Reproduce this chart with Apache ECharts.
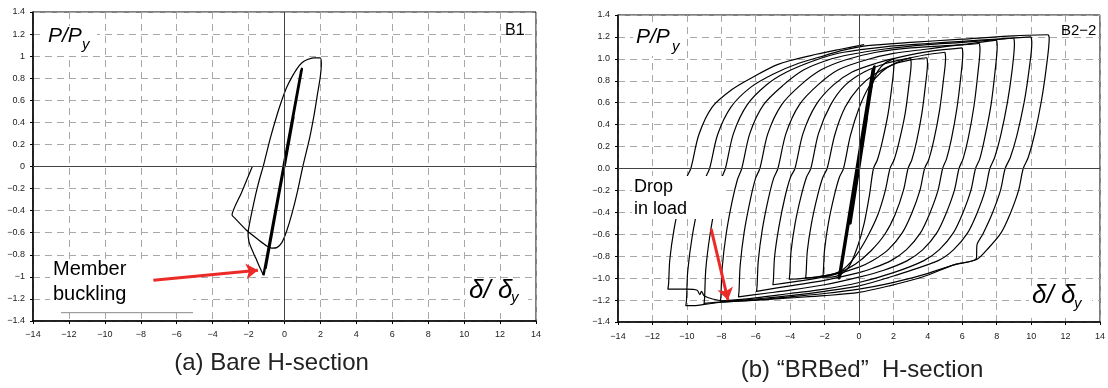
<!DOCTYPE html>
<html>
<head>
<meta charset="utf-8">
<script src="https://cdn.jsdelivr.net/npm/echarts@6/dist/echarts.min.js"></script>
<style>
  html, body { margin: 0; padding: 0; background: #fff; }
  #chart { width: 1108px; height: 388px; }
</style>
</head>
<body>
<div id="chart"></div>
<script>
// axis ranges (both panels)
const xMin = -14, xMax = 14, xStep = 2;
const yMin = -1.4, yMax = 1.4, yStep = 0.2;

// (a) B1 - bare H-section [delta/delta_y, P/P_y]
// elastic cycles (drawn heavy, as in the test record)
const b1Elastic = [
  [0, 0], [0.5, 0.45], [-0.55, -0.47], [0.97, 0.885], [-1.05, -0.92], [0.93, 0.87], [-1.17, -0.985]
];
// buckling, reload to +2, reverse to -3, end
const b1Path = [
  [-1.17, -0.985],
  [-1.36, -0.92], [-1.6, -0.83], [-1.82, -0.75], [-1.98, -0.68], [-2.03, -0.6], [-1.95, -0.52],
  [-1.8, -0.4], [-1.6, -0.25], [-1.4, -0.12], [-1.17, 0.01], [-0.8, 0.25], [-0.43, 0.46],
  [-0.15, 0.6], [0.13, 0.72], [0.41, 0.81], [0.69, 0.885], [0.97, 0.94], [1.28, 0.97],
  [1.62, 0.985], [1.99, 0.985],
  [2.05, 0.93], [1.99, 0.81], [1.84, 0.66], [1.66, 0.48], [1.4, 0.26], [1.02, 0], [0.73, -0.22],
  [0.41, -0.43], [0.13, -0.58], [-0.15, -0.69], [-0.43, -0.735], [-0.71, -0.74], [-0.99, -0.72],
  [-1.4, -0.67], [-2.1, -0.58], [-2.75, -0.47], [-2.92, -0.44], [-2.4, -0.24], [-1.79, 0]
];
const b1Arrow = [[-7.3, -1.03], [-1.48, -0.94]];

// (b) B2-2 - BRBed H-section
const b2Elastic = [
  [0, 0], [0.45, 0.46], [-0.5, -0.5], [0.9, 0.93], [-1.15, -1.0], [0.85, 0.91], [-1.1, -0.98],
  [0.8, 0.9], [-1.17, -1.0], [0.88, 0.92], [-1.15, -1.0]
];
const b2Loop1 = [
  [-1.15, -1.0], [-0.09, 0], [0.5, 0.55], [0.8, 0.78], [1.1, 0.89], [1.5, 0.96], [2.0, 1.0]
];
const b2Loop2 = [
  [2.0, 1.0], [2.03, 0.95], [1.91, 0.75], [1.69, 0.5], [1.36, 0.25], [1.07, 0.08], [0.84, 0],
  [0.6, -0.25], [0.3, -0.5], [-0.1, -0.72], [-0.6, -0.9], [-1.1, -0.97], [-1.6, -0.99], [-2.1, -0.99],
  [-2.07, -0.94], [-2.0, -0.74], [-1.78, -0.5], [-1.44, -0.25], [-1.14, -0.08], [-0.9, 0],
  [-0.5, 0.3], [0, 0.55], [0.6, 0.75], [1.3, 0.88], [2.1, 0.96], [3.0, 1.01]
];
const b2Loop3 = [
  [3.0, 1.01], [3.03, 0.96], [2.9, 0.76], [2.68, 0.5], [2.34, 0.25], [2.04, 0.08], [1.8, 0],
  [1.53, -0.2], [1.1, -0.42], [0.5, -0.62], [-0.2, -0.8], [-1.0, -0.93], [-2.0, -0.98], [-3.1, -1.0],
  [-3.07, -0.95], [-3.0, -0.75], [-2.76, -0.5], [-2.41, -0.25], [-2.1, -0.08], [-1.85, 0],
  [-1.4, 0.31], [-0.8, 0.56], [0, 0.74], [0.9, 0.86], [2.0, 0.95], [3.0, 0.99], [3.95, 1.01]
];
const b2Loop4 = [
  [3.95, 1.01], [3.98, 0.96], [3.86, 0.76], [3.65, 0.5], [3.35, 0.25], [3.07, 0.08], [2.85, 0],
  [2.58, -0.2], [2.1, -0.42], [1.5, -0.6], [0.7, -0.75], [-0.2, -0.87], [-1.2, -0.95], [-2.5, -0.99],
  [-4.05, -1.01],
  [-4.02, -0.96], [-3.95, -0.76], [-3.71, -0.5], [-3.36, -0.25], [-3.05, -0.08], [-2.8, 0],
  [-2.35, 0.32], [-1.65, 0.58], [-0.8, 0.76], [0.3, 0.88], [1.6, 0.96], [3.0, 1.01], [4.0, 1.04], [5.0, 1.06]
];
const b2Loop5 = [
  [5.0, 1.06], [5.03, 1.01], [4.9, 0.8], [4.68, 0.53], [4.35, 0.26], [4.05, 0.08], [3.81, 0],
  [3.54, -0.2], [3.06, -0.41], [2.5, -0.59], [1.7, -0.74], [0.8, -0.84], [0, -0.9], [-1.5, -0.97],
  [-3.2, -1.02], [-5.0, -1.06],
  [-4.97, -1.01], [-4.9, -0.8], [-4.65, -0.53], [-4.3, -0.26], [-3.98, -0.08], [-3.72, 0],
  [-3.25, 0.32], [-2.5, 0.58], [-1.5, 0.76], [-0.4, 0.88], [1.0, 0.96], [2.5, 1.02], [4.2, 1.07], [6.0, 1.10]
];
const b2Loop6 = [
  [6.0, 1.10], [6.03, 1.05], [5.91, 0.83], [5.69, 0.55], [5.37, 0.27], [5.09, 0.09], [4.86, 0],
  [4.59, -0.2], [4.11, -0.41], [3.56, -0.59], [2.76, -0.74], [1.86, -0.84], [0.8, -0.91], [0, -0.95],
  [-2.0, -1.02], [-4.0, -1.07], [-5.95, -1.12],
  [-5.92, -1.07], [-5.85, -0.84], [-5.62, -0.56], [-5.27, -0.28], [-4.96, -0.09], [-4.71, 0],
  [-4.24, 0.32], [-3.47, 0.58], [-2.4, 0.76], [-1.2, 0.9], [0.4, 0.99], [2.0, 1.05], [4.0, 1.09],
  [5.5, 1.12], [7.0, 1.14]
];
const b2Loop7 = [
  [7.0, 1.14], [7.03, 1.09], [6.9, 0.86], [6.68, 0.57], [6.35, 0.28], [6.05, 0.09], [5.81, 0],
  [5.54, -0.2], [5.06, -0.41], [4.51, -0.59], [3.71, -0.74], [2.81, -0.84], [1.4, -0.93], [0, -0.99],
  [-2.0, -1.06], [-4.0, -1.11], [-5.5, -1.14], [-7.0, -1.17],
  [-6.97, -1.12], [-6.9, -0.88], [-6.67, -0.58], [-6.32, -0.29], [-6.01, -0.09], [-5.76, 0],
  [-5.29, 0.32], [-4.5, 0.58], [-3.4, 0.76], [-2.2, 0.9], [-0.8, 0.99], [1.0, 1.06], [3.0, 1.1],
  [6.0, 1.13], [7.0, 1.15], [8.0, 1.17]
];
const b2Loop8 = [
  [8.0, 1.17], [8.03, 1.12], [7.9, 0.88], [7.67, 0.58], [7.32, 0.29], [7.02, 0.09], [6.77, 0],
  [6.5, -0.2], [6.02, -0.41], [5.47, -0.59], [4.67, -0.74], [3.77, -0.84], [2.0, -0.95], [0, -1.04],
  [-2.0, -1.10], [-4.0, -1.14], [-6.0, -1.18], [-8.05, -1.21],
  [-8.02, -1.16], [-7.95, -0.91], [-7.72, -0.6], [-7.37, -0.3], [-7.06, -0.1], [-6.81, 0],
  [-6.34, 0.32], [-5.55, 0.58], [-4.4, 0.76], [-3.2, 0.9], [-1.8, 0.99], [-0.5, 1.04], [1.5, 1.09],
  [4.0, 1.13], [6.0, 1.15], [9.0, 1.19]
];
const b2Loop9 = [
  [9.0, 1.19], [9.03, 1.14], [8.89, 0.89], [8.62, 0.6], [8.23, 0.3], [7.88, 0.1], [7.6, 0],
  [7.33, -0.2], [6.85, -0.41], [6.3, -0.59], [5.5, -0.74], [4.6, -0.84], [2.0, -0.98], [0, -1.07],
  [-2.0, -1.12], [-4.0, -1.16], [-6.0, -1.19], [-7.5, -1.21], [-9.0, -1.23],
  [-8.97, -1.18], [-8.9, -0.92], [-8.67, -0.62], [-8.32, -0.31], [-8.01, -0.1], [-7.76, 0],
  [-7.29, 0.32], [-6.5, 0.58], [-5.4, 0.76], [-4.2, 0.88], [-2.5, 0.99], [-0.9, 1.06], [1.5, 1.11],
  [4.0, 1.14], [6.0, 1.16], [8.0, 1.18], [10.0, 1.20]
];
const b2Loop10 = [
  [10.0, 1.20], [10.04, 1.15], [9.88, 0.9], [9.59, 0.6], [9.17, 0.3], [8.79, 0.1], [8.49, 0],
  [8.22, -0.2], [7.74, -0.41], [7.19, -0.6], [6.85, -0.7], [6.82, -0.82], [5.49, -0.88], [3.5, -0.98],
  [1.7, -1.05], [0, -1.10], [-2.0, -1.14], [-4.0, -1.17], [-6.0, -1.2], [-8.0, -1.22], [-9.0, -1.24],
  [-9.5, -1.25], [-10.06, -1.25],
  [-10.02, -1.2], [-9.95, -0.94], [-9.69, -0.62], [-9.3, -0.31], [-8.96, -0.1], [-8.68, 0],
  [-8.21, 0.31], [-7.44, 0.56], [-6.3, 0.74], [-5.0, 0.86], [-3.5, 0.96], [-2.0, 1.03], [-0.9, 1.08],
  [0.5, 1.12], [3.0, 1.15], [6.0, 1.18], [9.0, 1.21], [11.0, 1.22]
];
const b2Loop11 = [
  [11.0, 1.22], [11.05, 1.19], [10.88, 0.92], [10.6, 0.62], [10.2, 0.31], [9.83, 0.1], [9.54, 0],
  [9.27, -0.2], [8.79, -0.41], [8.24, -0.59], [7.44, -0.74], [6.83, -0.83], [5.59, -0.875],
  [3.68, -0.99], [1.77, -1.07], [0, -1.13], [-2.0, -1.16], [-4.0, -1.18], [-6.0, -1.2], [-7.6, -1.21],
  [-8.5, -1.19], [-9.0, -1.16], [-9.15, -1.12], [-9.25, -1.15], [-9.4, -1.11], [-10.0, -1.1], [-11.1, -1.1],
  [-11.06, -1.05], [-10.99, -0.83], [-10.74, -0.55], [-10.37, -0.28], [-10.04, -0.09], [-9.77, 0],
  [-9.3, 0.31], [-8.53, 0.56], [-7.38, 0.72], [-6.2, 0.83], [-4.7, 0.95], [-2.8, 1.03], [-1.0, 1.09],
  [0.3, 1.13]
];
const b2Loops = [b2Loop1, b2Loop2, b2Loop3, b2Loop4, b2Loop5, b2Loop6, b2Loop7, b2Loop8, b2Loop9, b2Loop10, b2Loop11];
const b2Arrow = [[-8.59, -0.55], [-7.61, -1.2]];

const ff = '"Liberation Sans", Arial, sans-serif';
const minus = s => s.replace('-', '\u2212');

function xAxisFor(i, margin) {
  return {
    type: 'value', gridIndex: i, min: xMin, max: xMax, interval: xStep,
    axisLine: { show: true, onZero: false, lineStyle: { color: '#000', width: 1.5 } },
    axisTick: { show: true, length: 3, lineStyle: { color: '#000' } },
    axisLabel: { margin: margin, fontSize: 9, color: '#222', fontFamily: ff,
      formatter: v => minus(String(v)) },
    splitLine: { show: true, lineStyle: { color: '#a8a8a8', type: [7, 5], width: 1 } }
  };
}
function yAxisFor(i, fixed) {
  return {
    type: 'value', gridIndex: i, min: yMin, max: yMax, interval: yStep,
    axisLine: { show: true, onZero: false, lineStyle: { color: '#000', width: 1.5 } },
    axisTick: { show: true, length: 3, lineStyle: { color: '#000' } },
    axisLabel: { margin: 8, fontSize: 9, color: '#222', fontFamily: ff,
      formatter: v => fixed ? minus(v.toFixed(1)) : minus(String(Math.round(v * 10) / 10)) },
    splitLine: { show: true, lineStyle: { color: '#a8a8a8', type: [7, 5], width: 1 } }
  };
}

// zero lines drawn as mark lines
const zeroLines = {
  silent: true, symbol: 'none', label: { show: false }, animation: false,
  lineStyle: { color: '#444', width: 1, type: 'solid' },
  data: [{ xAxis: 0 }, { yAxis: 0 }]
};

function curve(data, gi, smooth, width, extra) {
  return Object.assign({
    type: 'line', xAxisIndex: gi, yAxisIndex: gi, data: data,
    showSymbol: false, symbol: 'none', smooth: smooth, silent: true,
    lineStyle: { color: '#000', width: width, join: 'round' }, z: 2
  }, extra || {});
}

const series = [
  curve(b1Elastic, 0, false, 2.4, { markLine: zeroLines }),
  curve(b1Path, 0, 0.2, 1.2),
  curve(b2Elastic, 1, false, 2.6, { markLine: zeroLines })
];
b2Loops.forEach(d => series.push(curve(d, 1, 0.3, 1.2)));
[[b1Arrow, 0], [b2Arrow, 1]].forEach(([a, gi]) => series.push({
  type: 'lines', coordinateSystem: 'cartesian2d', xAxisIndex: gi, yAxisIndex: gi,
  data: [{ coords: a }], symbol: ['none', 'arrow'], symbolSize: 12, silent: true, z: 10,
  lineStyle: { color: '#ec2a27', width: 3, opacity: 1, curveness: 0 }
}));

function box(x, y, w, h) {
  return { type: 'rect', shape: { x: x, y: y, width: w, height: h }, style: { fill: '#fff' }, z: 5, silent: true };
}
function txt(x, y, text, size, opts) {
  return { type: 'text', x: x, y: y, z: 6, silent: true,
    style: Object.assign({ text: text, fontSize: size, fontFamily: ff, fill: '#000',
      align: 'left', verticalAlign: 'middle', textAlign: 'left', textVerticalAlign: 'middle' }, opts || {}) };
}
const it = { fontStyle: 'italic' };
const mid = { align: 'center', textAlign: 'center', fill: '#222' };

const graphics = [
  // white boxes behind annotations
  box(45, 26, 52, 29), box(633, 27, 53, 29),
  box(466, 280, 62, 33), box(1029, 286, 63, 32),
  box(50, 259, 143, 54), box(632, 176, 91, 43),
  // axis titles
  txt(48, 36.3, 'P/P', 21, it), txt(82, 45, 'y', 15, it),
  txt(636, 37.5, 'P/P', 21, it), txt(672, 47, 'y', 15, it),
  txt(469, 291, '\u03b4/ \u03b4', 26, it), txt(511, 298, 'y', 15, it),
  txt(1032, 296, '\u03b4/ \u03b4', 26, it), txt(1074, 304, 'y', 15, it),
  // specimen names
  txt(505, 30.8, 'B1', 16), txt(1061, 31.3, 'B2\u22122', 15),
  // notes
  txt(53, 269.8, 'Member', 20), txt(53, 294.8, 'buckling', 20),
  txt(634, 186.8, 'Drop', 18), txt(634, 208.8, 'in load', 18),
  { type: 'line', shape: { x1: 61, y1: 312.7, x2: 193, y2: 312.7 }, style: { stroke: '#888', lineWidth: 1 }, z: 6, silent: true },
  // captions
  txt(271.5, 363.7, '(a) Bare H-section', 24, mid),
  txt(862, 370, '(b) \u201cBRBed\u201d  H-section', 24, mid)
];

const chart = echarts.init(document.getElementById('chart'), null, { renderer: 'canvas' });
chart.setOption({
  animation: false,
  backgroundColor: '#fff',
  grid: [
    { left: 33, top: 12, width: 503, height: 309, show: true, borderColor: '#000', borderWidth: 1, backgroundColor: 'transparent' },
    { left: 618, top: 15, width: 488, height: 307, show: true, borderColor: '#000', borderWidth: 1, backgroundColor: 'transparent' }
  ],
  xAxis: [xAxisFor(0, 9), xAxisFor(1, 10)],
  yAxis: [yAxisFor(0, false), yAxisFor(1, true)],
  series: series,
  graphic: { elements: graphics }
});
</script>
</body>
</html>
